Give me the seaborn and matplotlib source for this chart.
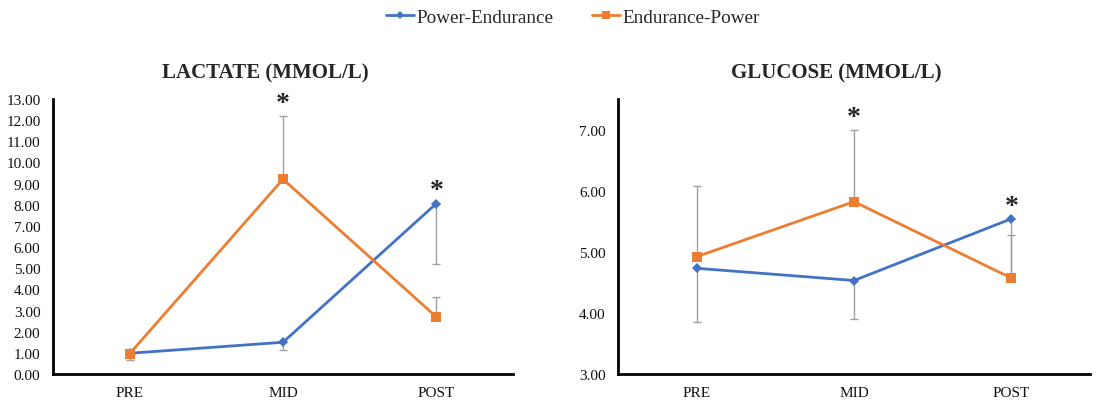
import numpy as np
import pandas as pd
import matplotlib
matplotlib.use("Agg")
import matplotlib.pyplot as plt
import seaborn as sns

times = ["PRE", "MID", "POST"]
groups = ["Power-Endurance", "Endurance-Power"]

lactate_pe = [0.98, 1.50, 8.06]
lactate_ep = [0.96, 9.21, 2.70]
lactate_pe_err = [0.30, 0.35, 2.88]   # drawn downward
lactate_ep_err = [0.10, 3.00, 0.95]   # drawn upward

glucose_pe = [4.73, 4.53, 5.54]
glucose_ep = [4.92, 5.82, 4.57]
glucose_pe_err = [0.88, 0.63, 0.90]   # drawn downward
glucose_ep_err = [1.15, 1.18, 0.71]   # drawn upward

# significance markers: (time index, group index)
lactate_sig = [(1, 1), (2, 0)]
glucose_sig = [(1, 1), (2, 0)]

titles = ["LACTATE (MMOL/L)", "GLUCOSE (MMOL/L)"]

BLUE = "#4472C4"
ORANGE = "#ED7D31"
GRAY = "#A0A0A0"

sns.set_theme(style="white")
plt.rcParams['font.family'] = ['Liberation Serif', 'DejaVu Serif']

fig = plt.figure(figsize=(11.15, 4.06), dpi=100)
ax1 = fig.add_axes([53/1115, 31/406, 460/1115, 275/406])
ax2 = fig.add_axes([618/1115, 31/406, 472/1115, 275/406])

def make_df(pe, ep):
    return pd.DataFrame({
        "time": times * 2,
        "value": list(pe) + list(ep),
        "group": [groups[0]] * 3 + [groups[1]] * 3,
    })

def draw(ax, pe, ep, pe_err, ep_err, sig, ylim, yticks):
    df = make_df(pe, ep)
    x = np.arange(len(times))
    ax.errorbar(x, pe, yerr=[pe_err, [0] * 3], fmt='none', ecolor=GRAY,
                elinewidth=1.0, capsize=3, capthick=1.0, zorder=1)
    ax.errorbar(x, ep, yerr=[[0] * 3, ep_err], fmt='none', ecolor=GRAY,
                elinewidth=1.0, capsize=3, capthick=1.0, zorder=1)
    sns.lineplot(data=df, x="time", y="value", hue="group", style="group",
                 hue_order=groups, style_order=groups,
                 palette={groups[0]: BLUE, groups[1]: ORANGE},
                 markers={groups[0]: "D", groups[1]: "s"},
                 dashes=False, sort=False, linewidth=2, markeredgewidth=0,
                 ax=ax, legend=True, zorder=3)
    for ln in ax.lines:
        if ln.get_marker() == "D":
            ln.set_markersize(5)
        elif ln.get_marker() == "s":
            ln.set_markersize(7)
    series = [pe, ep]
    errs = [pe_err, ep_err]
    for ti, gi in sig:
        top = series[gi][ti] + (errs[gi][ti] if gi == 1 else 0)
        ax.annotate("*", (ti, top), xytext=(0, 0), textcoords="offset points",
                    ha="center", va="bottom", fontsize=20, fontweight="bold")
    ax.set_xlim(-0.5, 2.5)
    ax.set_ylim(*ylim)
    ax.set_yticks(yticks)
    ax.set_yticklabels([f"{v:.2f}" for v in yticks])
    ax.set_xlabel("")
    ax.set_ylabel("")
    ax.tick_params(axis="both", length=0, labelsize=11, colors="#111111")
    ax.tick_params(axis="y", pad=9)
    ax.tick_params(axis="x", pad=9)
    for s in ["top", "right"]:
        ax.spines[s].set_visible(False)
    for s in ["left", "bottom"]:
        ax.spines[s].set_color("black")
        ax.spines[s].set_linewidth(2)
    ax.grid(False)

draw(ax1, lactate_pe, lactate_ep, lactate_pe_err, lactate_ep_err, lactate_sig,
     (0, 13), list(range(0, 14)))
draw(ax2, glucose_pe, glucose_ep, glucose_pe_err, glucose_ep_err, glucose_sig,
     (3, 7.5), [3, 4, 5, 6, 7])

handles, labels = ax1.get_legend_handles_labels()
for h in handles:
    if h.get_marker() == "s":
        h.set_markersize(6)
    else:
        h.set_markersize(4.5)
ax1.get_legend().remove()
ax2.get_legend().remove()
fig.legend(handles, labels, loc="center", bbox_to_anchor=(573/1115, 1 - 18/406),
           ncol=2, frameon=False, fontsize=13.8, handlelength=1.45,
           columnspacing=2.0, handletextpad=0.15)

fig.text(265/1115, 1 - 73/406, titles[0], ha="center", va="center",
         fontsize=15, fontweight="bold")
fig.text(836/1115, 1 - 73/406, titles[1], ha="center", va="center",
         fontsize=15, fontweight="bold")

fig.savefig("out.png", dpi=100, facecolor="white")
